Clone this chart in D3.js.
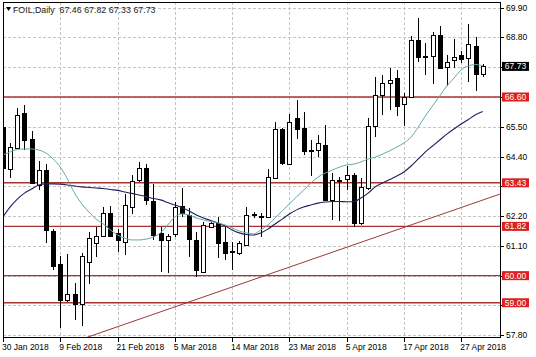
<!DOCTYPE html>
<html><head><meta charset="utf-8">
<script src="https://cdn.jsdelivr.net/npm/d3@7"></script>
<style>body{margin:0;background:#fff}svg{display:block}text{font-family:"Liberation Sans",Arial,sans-serif}</style>
</head><body><svg id="c" width="536" height="357"></svg>
<script>
const titleName = "FOIL,Daily";
const titleValues = ["67.46","67.82","67.33","67.73"];
const tickLabels = ["30 Jan 2018","9 Feb 2018","21 Feb 2018","5 Mar 2018","14 Mar 2018","23 Mar 2018","5 Apr 2018","17 Apr 2018","27 Apr 2018"];
const tickBars = [0,8,16,24,32,40,48,56,64];
const yTicks = [69.90,68.80,67.70,66.60,65.50,64.40,63.30,62.20,61.10,60.00,58.90,57.80];
const open  = [65.49,63.93,64.72,66.01,65.05,63.35,63.90,61.65,60.43,59.10,59.32,58.95,60.50,61.21,61.47,62.31,61.58,61.24,62.54,63.53,63.98,62.76,61.58,61.32,61.54,62.57,62.24,61.32,60.14,61.80,61.95,61.24,60.87,60.84,61.13,62.24,62.20,62.17,63.61,65.42,64.12,65.82,65.45,64.61,64.64,64.83,62.80,63.53,63.57,63.72,61.95,63.24,65.53,66.67,67.13,67.30,66.34,66.60,68.71,68.11,68.11,68.89,67.71,67.97,68.15,68.04,68.48,67.46];
const high  = [65.60,64.91,66.19,66.30,65.34,64.24,64.12,61.72,60.73,60.80,59.73,60.84,61.61,61.80,62.54,62.57,61.72,63.02,63.72,64.20,64.12,63.39,61.80,61.54,62.72,63.24,62.50,61.61,61.98,61.98,62.17,61.80,61.24,61.28,62.54,62.35,62.31,63.94,65.68,65.46,65.97,66.49,66.05,65.01,65.20,65.57,63.79,63.64,64.05,63.79,63.61,65.82,67.34,67.41,67.67,67.60,66.75,68.85,69.52,68.59,69.00,69.22,68.15,68.74,68.30,69.30,68.82,67.82];
const low   = [63.76,63.60,64.68,64.64,63.39,63.16,61.21,60.21,58.07,59.03,58.36,58.14,59.69,60.69,61.43,61.43,60.87,60.76,62.28,63.46,62.61,61.32,60.14,60.10,61.43,62.17,60.69,59.95,60.10,61.76,60.65,60.58,60.21,60.76,61.10,62.13,61.43,62.15,63.57,64.09,64.09,65.05,64.46,63.68,64.38,62.76,62.06,62.02,63.16,61.80,61.87,63.16,65.12,65.94,66.12,65.90,65.53,66.56,67.89,67.41,67.08,67.63,67.01,67.67,67.86,67.15,66.82,67.33];
const close = [63.98,64.74,65.94,65.01,63.42,63.90,61.69,60.36,59.10,59.32,58.95,60.73,61.39,61.47,62.31,61.47,61.32,62.61,63.50,63.98,62.80,61.50,61.32,61.47,62.54,62.31,61.35,60.21,61.87,61.95,61.21,60.84,60.91,61.21,62.24,62.26,62.22,63.64,65.42,64.16,65.68,65.42,64.61,64.64,64.90,62.80,63.53,63.55,63.72,61.95,63.28,65.53,66.67,67.12,67.23,66.27,66.60,68.71,68.08,68.08,68.89,67.67,67.89,68.08,68.00,68.56,67.45,67.73];
const maFast = [64.46,64.57,64.66,64.68,64.68,64.64,64.53,64.31,64.01,63.57,63.05,62.65,62.35,62.09,61.91,61.69,61.50,61.39,61.32,61.32,61.35,61.43,61.58,61.87,62.17,62.28,62.24,62.13,62.06,62.00,61.95,61.87,61.76,61.65,61.58,61.54,61.69,61.87,62.13,62.39,62.65,62.91,63.16,63.42,63.64,63.79,63.90,64.01,64.09,64.12,64.20,64.31,64.38,64.49,64.61,64.75,64.90,65.12,65.49,65.90,66.27,66.64,67.01,67.30,67.60,67.75,67.80,67.75];
const maSlow = [62.17,62.54,62.83,63.05,63.20,63.35,63.39,63.39,63.38,63.35,63.31,63.28,63.26,63.24,63.22,63.18,63.15,63.09,63.04,62.98,62.92,62.85,62.80,62.70,62.61,62.52,62.39,62.24,62.13,62.04,61.95,61.84,61.69,61.58,61.52,61.50,61.58,61.72,61.91,62.09,62.28,62.43,62.54,62.61,62.68,62.72,62.74,62.74,62.73,62.73,62.87,63.05,63.28,63.42,63.55,63.68,63.83,64.05,64.31,64.57,64.79,65.01,65.23,65.42,65.60,65.77,65.94,66.06];
const levels = [66.60,63.43,61.82,60.00,59.00];
const trendBars = [20,60];
const trendPrices = [58.48,62.15];
const lastPrice = 67.73;

const svg = d3.select("#c");
const L = 3, R = 501, T = 2, B = 338;
const x = d3.scaleLinear().domain([0,64]).range([3,461.2]);
const y = d3.scaleLinear().domain([57.697,70.109]).range([B,T]);
const px = v => Math.round(v) + 0.5;

svg.append("defs").append("clipPath").attr("id","pc")
  .append("rect").attr("x",L).attr("y",T).attr("width",R-L).attr("height",B-T);

// grid
const grid = svg.append("g").attr("stroke","#c4c4c4").attr("stroke-dasharray","3,2").attr("shape-rendering","crispEdges");
grid.selectAll("line.v").data(tickBars).join("line")
  .attr("x1",d=>px(x(d))).attr("x2",d=>px(x(d))).attr("y1",T).attr("y2",B);
grid.selectAll("line.h").data(yTicks).join("line")
  .attr("x1",L).attr("x2",R).attr("y1",d=>px(y(d))).attr("y2",d=>px(y(d)));

const plot = svg.append("g").attr("clip-path","url(#pc)");

// level lines
plot.selectAll("line.lev").data(levels).join("line")
  .attr("x1",L).attr("x2",R).attr("y1",d=>y(d)).attr("y2",d=>y(d))
  .attr("stroke","#a8342f").attr("stroke-width",1.4);

// trend line (extended)
const slope = (trendPrices[1]-trendPrices[0])/(trendBars[1]-trendBars[0]);
const bx0 = x.invert(L-5), bx1 = x.invert(R+5);
plot.append("line")
  .attr("x1",x(bx0)).attr("y1",y(trendPrices[0]+slope*(bx0-trendBars[0])))
  .attr("x2",x(bx1)).attr("y2",y(trendPrices[0]+slope*(bx1-trendBars[0])))
  .attr("stroke","#9a3a3a").attr("stroke-width",1);

// candles
const idx = d3.range(open.length);
const cg = plot.append("g").attr("shape-rendering","crispEdges");
cg.selectAll("line.w").data(idx).join("line")
  .attr("x1",i=>px(x(i))).attr("x2",i=>px(x(i)))
  .attr("y1",i=>Math.round(y(high[i]))).attr("y2",i=>Math.round(y(low[i])))
  .attr("stroke","#000");
cg.selectAll("rect").data(idx).join("rect")
  .attr("x",i=>Math.round(x(i))-1.5)
  .attr("width",4)
  .attr("y",i=>Math.round(y(Math.max(open[i],close[i])))+0.5)
  .attr("height",i=>Math.max(1,Math.round(y(Math.min(open[i],close[i])))-Math.round(y(Math.max(open[i],close[i])))))
  .attr("fill",i=>close[i]>=open[i]?"#fff":"#000")
  .attr("stroke","#000").attr("stroke-width",1);

// moving averages
const line = d3.line().x((d,i)=>x(i)).y(d=>y(d)).curve(d3.curveMonotoneX);
plot.append("path").attr("d",line(maSlow)).attr("fill","none").attr("stroke","#1f1f5c").attr("stroke-width",1.1);
plot.append("path").attr("d",line(maFast)).attr("fill","none").attr("stroke","#62a9a6").attr("stroke-width",1);

// frame
svg.append("rect").attr("x",L+0.5).attr("y",T+0.5).attr("width",R-L-1).attr("height",B-T-1)
  .attr("fill","none").attr("stroke","#000").attr("shape-rendering","crispEdges");

// right axis
const tagged = levels.concat([lastPrice]);
const ax = svg.append("g").attr("shape-rendering","crispEdges");
ax.selectAll("line.yt").data(yTicks).join("line")
  .attr("x1",R).attr("x2",R+3).attr("y1",d=>px(y(d))).attr("y2",d=>px(y(d))).attr("stroke","#000");
svg.selectAll("text.yl").data(yTicks.filter(v=>!tagged.some(t=>Math.abs(y(t)-y(v))<10))).join("text")
  .attr("x",506).attr("y",d=>y(d)+3).attr("font-size",8.5).attr("fill","#000")
  .text(d=>d.toFixed(2));

// bottom axis
ax.selectAll("line.xt").data(tickBars).join("line")
  .attr("x1",d=>px(x(d))).attr("x2",d=>px(x(d))).attr("y1",B).attr("y2",B+4).attr("stroke","#000");
svg.selectAll("text.xl").data(tickBars).join("text")
  .attr("x",d=>x(d)-1).attr("y",350).attr("font-size",8.5).attr("fill","#000")
  .text((d,i)=>tickLabels[i]);

// level tags
const tags = svg.append("g");
levels.forEach(v=>{
  tags.append("rect").attr("x",502).attr("y",y(v)-4.5).attr("width",27).attr("height",9).attr("fill","#dd1f1f");
  tags.append("text").attr("x",515.5).attr("y",y(v)+3).attr("text-anchor","middle").attr("font-size",8.5).attr("fill","#fff").text(v.toFixed(2));
});
tags.append("rect").attr("x",502).attr("y",y(lastPrice)-4.5).attr("width",27).attr("height",9).attr("fill","#000");
tags.append("text").attr("x",515.5).attr("y",y(lastPrice)+3).attr("text-anchor","middle").attr("font-size",8.5).attr("fill","#fff").text(lastPrice.toFixed(2));

// title
svg.append("path").attr("d","M6,7 L11,7 L8.5,11 Z").attr("fill","#000");
const tt = svg.append("text").attr("x",13).attr("y",13).attr("font-size",8.8).attr("fill","#222");
tt.append("tspan").text(titleName);
titleValues.forEach((v,i)=>tt.append("tspan").attr("dx", i===0 ? 5 : 2.6).text(v));
</script></body></html>
